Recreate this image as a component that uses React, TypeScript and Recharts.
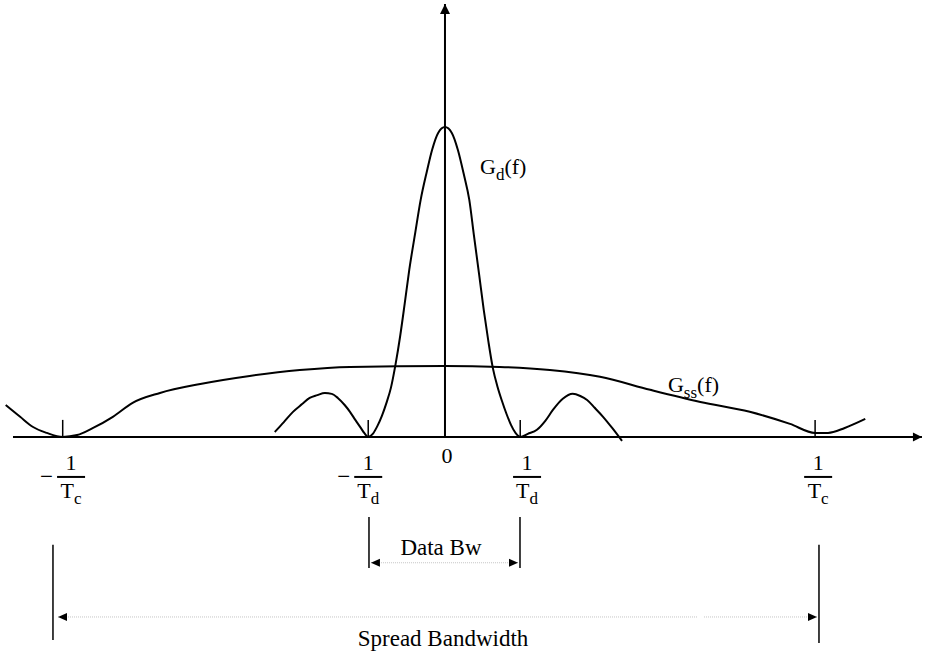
import React from 'react';
import { ComposedChart, Line, XAxis, YAxis, ReferenceLine, ReferenceDot } from 'recharts';

const FONT = '"Liberation Serif", "Times New Roman", Times, serif';

// Frequency in units of 1/Td, power normalised to the data-spectrum peak
const gdFreq = [-2.24, -2.12, -2.0, -1.88, -1.78, -1.68, -1.58, -1.49, -1.41, -1.32, -1.25, -1.18, -1.11, -1.06, -1.01,
  -0.95, -0.89, -0.83, -0.77, -0.71, -0.65, -0.59, -0.53, -0.47, -0.39, -0.32, -0.24, -0.17, -0.09, 0,
  0.09, 0.17, 0.25, 0.32, 0.38, 0.45, 0.51, 0.57, 0.63, 0.69, 0.75, 0.81, 0.87, 0.93, 0.99,
  1.09, 1.21, 1.32, 1.42, 1.55, 1.68, 1.78, 1.87, 1.97, 2.08, 2.2, 2.33];
const gdPower = [0.016, 0.048, 0.081, 0.106, 0.126, 0.135, 0.142, 0.139, 0.126, 0.103, 0.081, 0.055, 0.03, 0.012, 0,
  0.01, 0.035, 0.068, 0.11, 0.16, 0.235, 0.325, 0.43, 0.539, 0.661, 0.765, 0.855, 0.926, 0.981, 1,
  0.981, 0.926, 0.845, 0.765, 0.652, 0.523, 0.41, 0.31, 0.222, 0.163, 0.116, 0.074, 0.038, 0.012, 0,
  0.01, 0.023, 0.052, 0.087, 0.123, 0.139, 0.132, 0.119, 0.094, 0.065, 0.029, -0.013];

const gssFreq = [-5.78, -5.59, -5.42, -5.24, -5.03, -4.84, -4.63, -4.37, -4.11, -3.75, -3.22, -2.57, -1.91, -1.25, 0,
  0.72, 1.38, 2.04, 2.7, 3.36, 4.01, 4.54, 4.87, 5.04, 5.26, 5.53];
const gssPower = [0.103, 0.065, 0.032, 0.013, 0, 0.006, 0.029, 0.065, 0.11, 0.142, 0.171, 0.197, 0.216, 0.226, 0.229,
  0.226, 0.216, 0.194, 0.152, 0.113, 0.081, 0.042, 0.013, 0.013, 0.029, 0.058];

const tickFreqs = [-5.03, -1.01, 0.99, 4.87];
const tickLabelFreqs = [-4.92, -1.01, 1.08, 4.91];
const tickLabelNeg = [true, true, false, false];
const tickLabelSub = ['c', 'd', 'd', 'c'];

const gdData = gdFreq.map((f, i) => ({ f, a: gdPower[i] }));
const gssData = gssFreq.map((f, i) => ({ f, a: gssPower[i] }));

type ArrowOpts = { color?: string; width?: number; dash?: string; start?: boolean; end?: boolean; len?: number; half?: number };
const arrowShape = (o: ArrowOpts) => (p: any) => {
  const { x1, y1, x2, y2 } = p;
  const color = o.color ?? '#000';
  const len = o.len ?? 9;
  const half = o.half ?? 4.5;
  const ang = Math.atan2(y2 - y1, x2 - x1);
  const head = (x: number, y: number, dir: number) => {
    const bx = x - Math.cos(dir) * len;
    const by = y - Math.sin(dir) * len;
    const px = -Math.sin(dir) * half;
    const py = Math.cos(dir) * half;
    return `${x},${y} ${bx + px},${by + py} ${bx - px},${by - py}`;
  };
  return (
    <g>
      <line x1={x1} y1={y1} x2={x2} y2={y2} stroke={color} strokeWidth={o.width ?? 2} strokeDasharray={o.dash} />
      {o.end ? <polygon points={head(x2, y2, ang)} fill="#000" /> : null}
      {o.start ? <polygon points={head(x1, y1, ang + Math.PI)} fill="#000" /> : null}
    </g>
  );
};

const fractionShape = (neg: boolean, sub: string) => (p: any) => {
  const { cx, cy } = p;
  return (
    <g fontFamily={FONT} fill="#000">
      {neg ? (
        <text x={cx - 18} y={cy + 47} fontSize={23} textAnchor="end">−</text>
      ) : null}
      <text x={cx} y={cy + 33} fontSize={22} textAnchor="middle">1</text>
      <line x1={cx - 14} y1={cy + 40} x2={cx + 14} y2={cy + 40} stroke="#000" strokeWidth={2} />
      <text x={cx} y={cy + 61} fontSize={22} textAnchor="middle">
        T<tspan fontSize={17} dy={6}>{sub}</tspan>
      </text>
    </g>
  );
};

const textShape = (content: React.ReactNode, anchor: 'start' | 'middle' | 'end', size = 22) => (p: any) => (
  <text x={p.cx} y={p.cy} fontFamily={FONT} fontSize={size} textAnchor={anchor} fill="#000">{content}</text>
);

export default function App() {
  return (
    <div style={{ position: 'absolute', left: 0, top: 0, width: 925, height: 652, background: '#fff' }}>
      <ComposedChart width={925} height={652} margin={{ top: 0, right: 0, bottom: 0, left: 0 }}>
        <XAxis dataKey="f" type="number" domain={[-5.855, 6.316]} allowDataOverflow hide />
        <YAxis type="number" domain={[-0.694, 1.41]} allowDataOverflow hide />

        {/* axes */}
        <ReferenceLine segment={[{ x: -5.684, y: 0 }, { x: 6.276, y: 0 }]} shape={arrowShape({ end: true, len: 9, half: 4.5 })} />
        <ReferenceLine segment={[{ x: 0, y: 0 }, { x: 0, y: 1.397 }]} shape={arrowShape({ end: true, len: 10, half: 5 })} />

        {/* tick marks */}
        {tickFreqs.map((f, i) => (
          <ReferenceLine key={'t' + i} segment={[{ x: f, y: 0 }, { x: f, y: 0.055 }]} stroke="#000" strokeWidth={1.5} />
        ))}

        <Line data={gssData} dataKey="a" type="monotone" stroke="#000" strokeWidth={2} dot={false} activeDot={false} isAnimationActive={false} />
        <Line data={gdData} dataKey="a" type="monotone" stroke="#000" strokeWidth={2} dot={false} activeDot={false} isAnimationActive={false} />

        {/* tick labels */}
        {tickLabelFreqs.map((f, i) => (
          <ReferenceDot key={'l' + i} x={f} y={0} r={0} shape={fractionShape(tickLabelNeg[i], tickLabelSub[i])} />
        ))}
        <ReferenceDot x={0.026} y={-0.084} r={0} shape={textShape('0', 'middle')} />

        {/* curve labels */}
        <ReferenceDot x={0.461} y={0.848} r={0} shape={textShape(<>G<tspan fontSize={17} dy={6}>d</tspan><tspan dy={-6}>(f)</tspan></>, 'start')} />
        <ReferenceDot x={2.934} y={0.145} r={0} shape={textShape(<>G<tspan fontSize={17} dy={6}>ss</tspan><tspan dy={-6}>(f)</tspan></>, 'start')} />

        {/* Data bandwidth */}
        <ReferenceLine segment={[{ x: -1.0, y: -0.258 }, { x: -1.0, y: -0.423 }]} stroke="#000" strokeWidth={1.5} />
        <ReferenceLine segment={[{ x: 0.987, y: -0.258 }, { x: 0.987, y: -0.423 }]} stroke="#000" strokeWidth={1.5} />
        <ReferenceLine segment={[{ x: -0.974, y: -0.406 }, { x: 0.961, y: -0.406 }]} shape={arrowShape({ start: true, end: true, color: '#c4c4c4', width: 1, dash: '1 1', len: 9, half: 4 })} />
        <ReferenceDot x={-0.053} y={-0.381} r={0} shape={textShape('Data Bw', 'middle', 23)} />

        {/* Spread bandwidth */}
        <ReferenceLine segment={[{ x: -5.158, y: -0.348 }, { x: -5.158, y: -0.655 }]} stroke="#000" strokeWidth={1.5} />
        <ReferenceLine segment={[{ x: 4.921, y: -0.348 }, { x: 4.921, y: -0.665 }]} stroke="#000" strokeWidth={1.5} />
        <ReferenceLine segment={[{ x: -5.092, y: -0.581 }, { x: 3.316, y: -0.581 }]} shape={arrowShape({ start: true, color: '#c4c4c4', width: 1, dash: '1 1', len: 9, half: 4 })} />
        <ReferenceLine segment={[{ x: 3.408, y: -0.581 }, { x: 4.895, y: -0.581 }]} shape={arrowShape({ end: true, color: '#c4c4c4', width: 1, dash: '1 1', len: 9, half: 4 })} />
        <ReferenceDot x={-0.026} y={-0.674} r={0} shape={textShape('Spread Bandwidth', 'middle', 23)} />
      </ComposedChart>
    </div>
  );
}
